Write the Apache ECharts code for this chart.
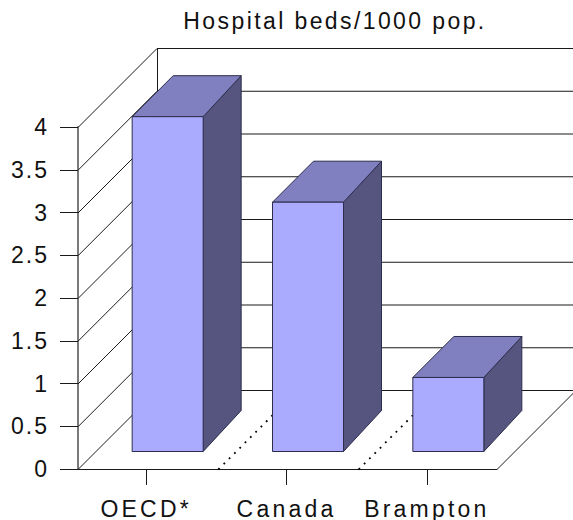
<!DOCTYPE html>
<html>
<head>
<meta charset="utf-8">
<style>
html,body{margin:0;padding:0;background:#fff;overflow:hidden}
#chart{width:573px;height:520px}
</style>
<script src="https://cdn.jsdelivr.net/npm/echarts@6/dist/echarts.min.js"></script>
</head>
<body>
<div id="chart"></div>
<script>
var titleText = 'Hospital beds/1000 pop.';
var categories = ['OECD*', 'Canada', 'Brampton'];
var beds = [3.91, 2.91, 0.86];
var yTicks = [0, 0.5, 1, 1.5, 2, 2.5, 3, 3.5, 4];

var DEPTH = 79, WALL_X = 2, PLANE = 18, BAR_W = 71, BAR_SHIFT = 21.5;
var ink = '#1a1a1a';

function seg(x1, y1, x2, y2, style) {
  return { type: 'line', shape: { x1: x1, y1: y1, x2: x2, y2: y2 }, style: style, silent: true };
}
function renderWall(params, api) {
  var cs = params.coordSys;
  var v = api.value(1);
  var y = api.coord([0, v])[1];
  var x0 = cs.x + WALL_X;
  var line = { stroke: ink, lineWidth: 1, fill: null };
  var kids = [
    seg(x0, y + 0.5, x0 + DEPTH, y - DEPTH + 0.5, line),
    seg(x0 + DEPTH, y - DEPTH + 0.5, 573, y - DEPTH + 0.5, line)
  ];
  if (v === 0) {
    var top = api.coord([0, yTicks[yTicks.length - 1]])[1];
    kids.push(seg(x0 + DEPTH + 0.5, y - DEPTH, x0 + DEPTH + 0.5, top - DEPTH, line));
    var xr = cs.x + cs.width;
    kids.push(seg(xr, y + 0.5, xr + DEPTH, y - DEPTH + 0.5, line));
    var step = cs.width / categories.length;
    for (var k = 1; k < categories.length; k++) {
      var bx = cs.x + step * k + WALL_X;
      kids.push(seg(bx, y + 0.5, bx + DEPTH, y - DEPTH + 0.5,
        { stroke: '#000', lineWidth: 1.8, lineDash: [1.8, 5.7], fill: null }));
    }
  }
  return { type: 'group', children: kids };
}
function renderBar(params, api) {
  var p = api.coord([api.value(0), api.value(1)]);
  var b = api.coord([api.value(0), 0]);
  var l = p[0] + BAR_SHIFT - BAR_W / 2, r = l + BAR_W;
  var t = p[1] - PLANE, f = b[1] - PLANE + 0.5;
  var edge = '#2c2c4c';
  function poly(points, fill) {
    return { type: 'polygon', shape: { points: points },
      style: { fill: fill, stroke: edge, lineWidth: 1 } };
  }
  return { type: 'group', children: [
    poly([[r, t], [r + 38, t - 41], [r + 38, f - 41], [r, f]], '#555580'),
    poly([[l, t], [l + 41, t - 41], [r + 38, t - 41], [r, t]], '#8080C0'),
    poly([[l, t], [r, t], [r, f], [l, f]], '#AAAAFF')
  ]};
}

var labelFont = { color: '#111', fontFamily: '"Liberation Sans", Arial, sans-serif', fontSize: 23 };
var chart = echarts.init(document.getElementById('chart'), null, { renderer: 'svg', width: 573, height: 520 });
function spaceText() {
  var nodes = document.querySelectorAll('#chart svg text');
  for (var i = 0; i < nodes.length; i++) {
    var s = nodes[i].textContent;
    nodes[i].style.letterSpacing = s === titleText ? '2.4px' : (categories.indexOf(s) >= 0 ? '3.2px' : '2px');
  }
}
chart.on('finished', spaceText);
chart.setOption({
  animation: false,
  backgroundColor: '#fff',
  title: {
    text: titleText, left: 330, top: 4, textAlign: 'center',
    textStyle: { color: '#111', fontWeight: 'normal', fontFamily: labelFont.fontFamily, fontSize: 23 }
  },
  grid: { left: 76, top: 127, width: 421, height: 342, containLabel: false },
  xAxis: {
    type: 'category', data: categories,
    axisLine: { show: true, lineStyle: { color: ink, width: 1 } },
    axisTick: { show: true, alignWithLabel: true, length: 16, lineStyle: { color: ink, width: 1 } },
    axisLabel: Object.assign({ margin: 28, interval: 0 }, labelFont),
    splitLine: { show: false }
  },
  yAxis: {
    type: 'value', min: 0, max: 4, interval: 0.5, offset: -2,
    axisLine: { show: true, lineStyle: { color: '#7a7a7a', width: 2 } },
    axisTick: { show: true, length: 18, lineStyle: { color: ink, width: 1 } },
    axisLabel: Object.assign({ margin: 29 }, labelFont),
    splitLine: { show: false }
  },
  series: [
    { type: 'custom', name: 'walls', renderItem: renderWall, clip: false, z: 1, silent: true,
      data: yTicks.map(function (v) { return [0, v]; }) },
    { type: 'custom', name: 'Hospital beds', renderItem: renderBar, clip: false, z: 3, silent: true,
      data: beds.map(function (v, i) { return [i, v]; }) }
  ]
});
spaceText();
</script>
</body>
</html>
